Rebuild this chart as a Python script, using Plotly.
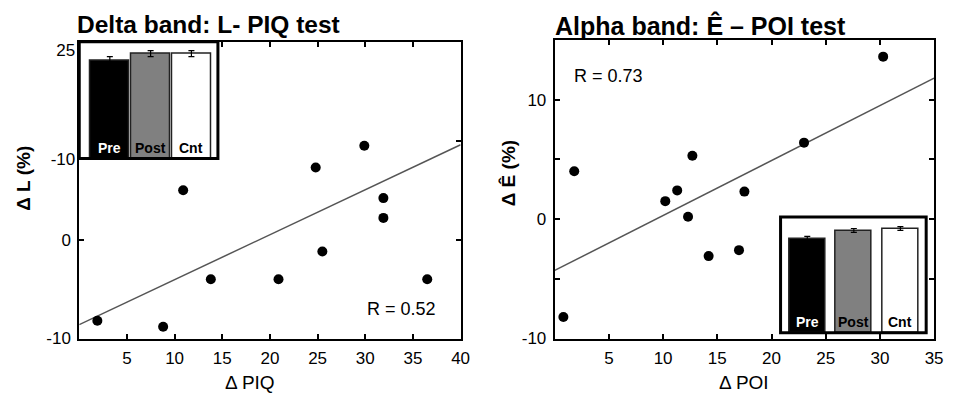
import plotly.graph_objects as go

W, H = 954, 403

# ---- Left panel: Delta band, L vs PIQ ----
piq = [1.9, 8.8, 10.9, 13.8, 20.9, 24.8, 25.5, 29.9, 31.9, 31.9, 36.5]
delta_L = [-8.2, -8.8, 5.0, -4.0, -4.0, 7.3, -1.2, 9.5, 4.2, 2.2, -4.0]
piq_fit = [0, 40]
delta_L_fit = [-8.6, 9.6]
r_left = "R = 0.52"

# ---- Right panel: Alpha band, E vs POI ----
poi = [0.8, 1.8, 10.2, 11.3, 12.3, 12.7, 14.2, 17.0, 17.5, 23.0, 30.3]
delta_E = [-8.2, 4.0, 1.5, 2.4, 0.2, 5.3, -3.1, -2.6, 2.3, 6.4, 13.6]
poi_fit = [0, 35]
delta_E_fit = [-4.3, 11.8]
r_right = "R = 0.73"

# ---- Inset bar charts ----
groups = ["Pre", "Post", "Cnt"]
group_pos = [0, 1, 2]
delta_bars = [22.5, 24.1, 24.1]
delta_err = [0.9, 0.7, 0.7]
alpha_bars = [24.2, 26.5, 27.0]
alpha_err = [0.75, 0.5, 0.5]
bar_colors = ["black", "#808080", "white"]
bar_text_colors = ["white", "black", "black"]

# ---- Tick labels ----
left_xticks = [5, 10, 15, 20, 25, 30, 35, 40]
left_yticks = [-10, 0, 10]
left_yticklabels = ["-10", "0", ""]
right_xticks = [5, 10, 15, 20, 25, 30, 35]
right_yticks = [-10, -5, 0, 5, 10]
right_yticklabels = ["-10", "", "0", "", "10"]
inset_yticks = [0, 25]
inset_yticklabels = ["-10", "25"]

FONT = "Arial, Liberation Sans, sans-serif"


def dom_x(a, b):
    return [a / W, b / W]


def dom_y(top, bottom):
    return [(H - bottom) / H, (H - top) / H]


fig = go.Figure()

fig.add_trace(go.Scatter(x=piq_fit, y=delta_L_fit, mode="lines",
                         line=dict(color="#555555", width=1.5),
                         xaxis="x", yaxis="y", showlegend=False, hoverinfo="skip"))
fig.add_trace(go.Scatter(x=piq, y=delta_L, mode="markers",
                         marker=dict(color="black", size=10),
                         xaxis="x", yaxis="y", showlegend=False))

fig.add_trace(go.Scatter(x=poi_fit, y=delta_E_fit, mode="lines",
                         line=dict(color="#555555", width=1.5),
                         xaxis="x2", yaxis="y2", showlegend=False, hoverinfo="skip"))
fig.add_trace(go.Scatter(x=poi, y=delta_E, mode="markers",
                         marker=dict(color="black", size=10),
                         xaxis="x2", yaxis="y2", showlegend=False))


def inset_bars(vals, errs, xa, ya, width):
    return go.Bar(
        x=group_pos, y=vals, xaxis=xa, yaxis=ya, width=width,
        marker=dict(color=bar_colors, line=dict(color="#222222", width=1.5)),
        error_y=dict(type="data", array=errs, color="black", thickness=1.2, width=3),
        showlegend=False, hoverinfo="skip",
    )


fig.add_trace(inset_bars(delta_bars, delta_err, "x3", "y3", 0.95))
fig.add_trace(inset_bars(alpha_bars, alpha_err, "x4", "y4", 0.77))

main_axis = dict(showline=True, mirror="ticks", linecolor="black", linewidth=2,
                 ticks="inside", ticklen=5, tickwidth=2, tickcolor="black",
                 showgrid=False, zeroline=False, ticklabelstandoff=3,
                 tickfont=dict(family=FONT, size=17, color="black"))

fig.update_layout(
    width=W, height=H, autosize=False,
    margin=dict(l=0, r=0, t=0, b=0),
    paper_bgcolor="white", plot_bgcolor="white",
    bargap=0,
    xaxis=dict(domain=dom_x(80, 465), range=[0, 40], anchor="y",
               tickvals=left_xticks, **main_axis),
    yaxis=dict(domain=dom_y(42, 347), range=[-10, 20], anchor="x",
               tickvals=left_yticks, ticktext=left_yticklabels, **main_axis),
    xaxis2=dict(domain=dom_x(560, 943), range=[0, 35], anchor="y2",
                tickvals=right_xticks, **main_axis),
    yaxis2=dict(domain=dom_y(40, 347), range=[-10, 15], anchor="x2",
                tickvals=right_yticks, ticktext=right_yticklabels, **main_axis),
    xaxis3=dict(domain=dom_x(80, 220), range=[-0.75, 2.65], anchor="y3", visible=False),
    yaxis3=dict(domain=dom_y(42, 162), range=[0, 26.8], anchor="x3",
                showline=False, showgrid=False, zeroline=False, ticks="",
                ticklabelstandoff=3,
                tickvals=inset_yticks, ticktext=inset_yticklabels,
                tickfont=dict(family=FONT, size=17, color="black")),
    xaxis4=dict(domain=dom_x(788, 935), range=[-0.574, 2.554], anchor="y4", visible=False),
    yaxis4=dict(domain=dom_y(222, 341), range=[0, 30], anchor="x4", visible=False),
)

# inset frames
for xr, yr in (("x3", "y3"), ("x4", "y4")):
    fig.add_shape(type="rect", xref=f"{xr} domain", yref=f"{yr} domain",
                  x0=0, x1=1, y0=0, y1=1, line=dict(color="black", width=3),
                  fillcolor="rgba(0,0,0,0)", layer="above")

ann = []
# bar labels inside the inset bars
for xr, yr in (("x3", "y3"), ("x4", "y4")):
    for pos, name, col in zip(group_pos, groups, bar_text_colors):
        ann.append(dict(text=f"<b>{name}</b>", xref=xr, yref=f"{yr} domain",
                        x=pos, y=0.09, xanchor="center", yanchor="middle",
                        showarrow=False, font=dict(family=FONT, size=14, color=col)))

ann.append(dict(text="<b>Delta band: L- PIQ test</b>", xref="paper", yref="paper",
                x=76 / W, y=(H - 24) / H, xanchor="left", yanchor="middle",
                showarrow=False, font=dict(family=FONT, size=24.5, color="black")))
ann.append(dict(text="<b>Alpha band: Ê – POI test</b>", xref="paper", yref="paper",
                x=558 / W, y=(H - 25) / H, xanchor="left", yanchor="middle",
                showarrow=False, font=dict(family=FONT, size=25, color="black")))
ann.append(dict(text="<b>Δ L (%)</b>", xref="paper", yref="paper",
                x=23 / W, y=(H - 182) / H, xanchor="center", yanchor="middle",
                textangle=-90, showarrow=False, font=dict(family=FONT, size=19, color="black")))
ann.append(dict(text="<b>Δ Ê (%)</b>", xref="paper", yref="paper",
                x=513 / W, y=(H - 177) / H, xanchor="center", yanchor="middle",
                textangle=-90, showarrow=False, font=dict(family=FONT, size=19, color="black")))
ann.append(dict(text="Δ PIQ", xref="paper", yref="paper",
                x=252 / W, y=(H - 392) / H, xanchor="center", yanchor="middle",
                showarrow=False, font=dict(family=FONT, size=19, color="black")))
ann.append(dict(text="Δ POI", xref="paper", yref="paper",
                x=751 / W, y=(H - 392) / H, xanchor="center", yanchor="middle",
                showarrow=False, font=dict(family=FONT, size=19, color="black")))
ann.append(dict(text=r_left, xref="x", yref="y", x=33.8, y=-7.05,
                xanchor="center", yanchor="middle", showarrow=False,
                font=dict(family=FONT, size=18, color="black")))
ann.append(dict(text=r_right, xref="x2", yref="y2", x=5.0, y=11.95,
                xanchor="center", yanchor="middle", showarrow=False,
                font=dict(family=FONT, size=18, color="black")))
fig.update_layout(annotations=ann)

fig.write_html("out.html",
               config={"displayModeBar": False},
               post_script="document.body.style.margin='0px';"
                           "document.body.style.overflow='hidden';")
